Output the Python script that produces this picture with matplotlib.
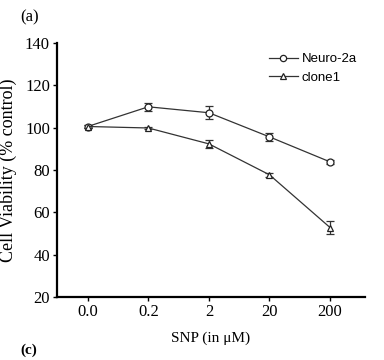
import matplotlib
matplotlib.use("Agg")
import matplotlib.pyplot as plt
from matplotlib.lines import Line2D
import numpy as np

categories = ["0.0", "0.2", "2", "20", "200"]
neuro = [100.5, 109.8, 107.0, 95.6, 83.8]
neuro_err = [0.8, 2.0, 3.0, 2.0, 0.8]
clone = [100.5, 99.8, 92.3, 77.7, 52.8]
clone_err = [0.8, 0.6, 1.8, 1.0, 3.0]

serif = "Liberation Serif"
sans = "Liberation Sans"

fig = plt.figure(figsize=(3.84, 3.6), dpi=100)
ax = fig.add_axes([0.148, 0.175, 0.803, 0.706])
x = np.arange(len(categories))

style = dict(color="#333333", lw=0.9, ms=5, mfc="white", mec="#222222", mew=0.9)
ax.errorbar(x, neuro, yerr=neuro_err, marker="o", capsize=3, elinewidth=0.9, **style)
ax.errorbar(x, clone, yerr=clone_err, marker="^", capsize=3, elinewidth=0.9, **style)

ax.set_xlim(-0.51, 4.58)
ax.set_ylim(20, 140)
ax.set_yticks([20, 40, 60, 80, 100, 120, 140])
ax.set_xticks(x)
ax.set_xticklabels(categories)
for s in ["top", "right"]:
    ax.spines[s].set_visible(False)
for s in ["left", "bottom"]:
    ax.spines[s].set_linewidth(1.6)
ax.tick_params(axis="both", direction="out", length=3, width=1, labelsize=12, pad=2)
for lab in ax.get_xticklabels() + ax.get_yticklabels():
    lab.set_fontfamily(serif)

ax.set_xlabel("SNP (in μM)", fontfamily=serif, fontsize=11, labelpad=8)
ax.set_ylabel("Cell Viability (% control)", fontfamily=serif, fontsize=13, labelpad=6)

leg_style = dict(style, ms=4.5)
handles = [Line2D([], [], marker="o", **leg_style), Line2D([], [], marker="^", **leg_style)]
ax.legend(handles, ["Neuro-2a", "clone1"], loc="upper left",
          bbox_to_anchor=(0.67, 0.98), frameon=False,
          prop={"family": sans, "size": 9.5}, handlelength=2.2,
          handletextpad=0.3, labelspacing=0.45, borderaxespad=0)

fig.text(0.052, 0.953, "(a)", fontfamily=serif, fontsize=12, va="center")
fig.text(0.052, 0.028, "(c)", fontfamily=serif, fontsize=11, fontweight="bold", va="center")

fig.savefig("out.png", dpi=100)
